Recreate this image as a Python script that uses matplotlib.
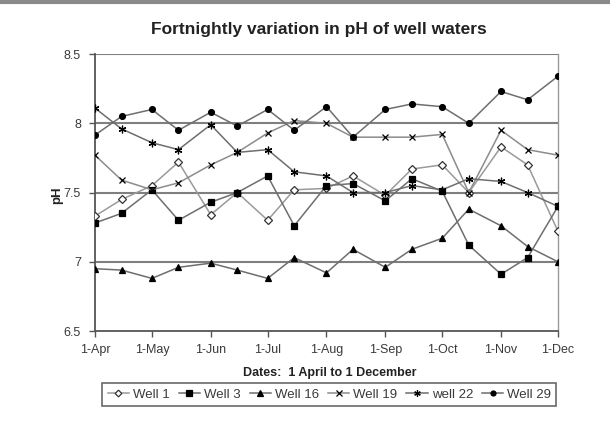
"""
Fortnightly pH of well waters, 1 April to 1 December.
"""

import matplotlib
matplotlib.use("Agg")
import matplotlib.pyplot as plt
import matplotlib.dates as mdates
import pandas as pd

# sampling dates (1st and 15th of each month)
dates = ['1-Apr', '15-Apr', '1-May', '15-May', '1-Jun', '15-Jun', '1-Jul', '15-Jul',
         '1-Aug', '15-Aug', '1-Sep', '15-Sep', '1-Oct', '15-Oct', '1-Nov', '15-Nov', '1-Dec']
tick_dates = ['1-Apr', '1-May', '1-Jun', '1-Jul', '1-Aug', '1-Sep', '1-Oct', '1-Nov', '1-Dec']

well_1 = [7.33, 7.45, 7.55, 7.72, 7.34, 7.50, 7.30, 7.52, 7.53, 7.62, 7.48, 7.67, 7.70, 7.50, 7.83, 7.70, 7.22]
well_3 = [7.28, 7.35, 7.52, 7.30, 7.43, 7.50, 7.62, 7.26, 7.55, 7.565, 7.44, 7.60, 7.51, 7.12, 6.91, 7.03, 7.40]
well_16 = [6.95, 6.94, 6.88, 6.96, 6.99, 6.94, 6.88, 7.03, 6.92, 7.09, 6.96, 7.09, 7.17, 7.38, 7.26, 7.11, 7.00]
well_19 = [7.77, 7.59, 7.52, 7.57, 7.70, 7.79, 7.93, 8.02, 8.00, 7.90, 7.90, 7.90, 7.92, 7.50, 7.95, 7.81, 7.77]
well_22 = [8.11, 7.96, 7.86, 7.81, 7.99, 7.79, 7.81, 7.65, 7.62, 7.50, 7.50, 7.55, 7.52, 7.60, 7.58, 7.50, 7.40]
well_29 = [7.915, 8.05, 8.10, 7.95, 8.08, 7.98, 8.10, 7.95, 8.12, 7.90, 8.10, 8.14, 8.12, 8.00, 8.23, 8.17, 8.34]

labels = ['Well 1', 'Well 3', 'Well 16', 'Well 19', 'well 22', 'Well 29']
y_ticks = [6.5, 7, 7.5, 8, 8.5]

x = pd.to_datetime([d + '-2009' for d in dates], format='%d-%b-%Y')
x_ticks = pd.to_datetime([d + '-2009' for d in tick_dates], format='%d-%b-%Y')

plt.rcParams['font.family'] = ['Liberation Sans', 'DejaVu Sans']

fig = plt.figure(figsize=(6.10, 4.26), dpi=100)
ax = fig.add_axes([0.1557, 0.223, 0.759, 0.650])

# series styles: (data, marker, size, face colour, line colour)
styles = [
    (well_1, 'D', 4, 'white', '#9a9a9a'),
    (well_3, 's', 4.5, 'black', '#6e6e6e'),
    (well_16, '^', 5, 'black', '#6e6e6e'),
    (well_19, 'x', 4.5, 'black', '#8c8c8c'),
    (well_22, (6, 2, 0), 5.5, 'black', '#6e6e6e'),
    (well_29, 'o', 4.2, 'black', '#6e6e6e'),
]

for (vals, mk, ms, fc, lc), lab in zip(styles, labels):
    ax.plot(x, vals, color=lc, lw=1.1, marker=mk, markersize=ms,
            markerfacecolor=fc, markeredgecolor='#333333' if fc == 'white' else 'black',
            markeredgewidth=0.9, label=lab, zorder=3)

# horizontal gridlines
for yv in y_ticks[1:]:
    ax.axhline(yv, color='#7f7f7f', lw=1.5, zorder=1)

ax.set_ylim(6.5, 8.5)
ax.set_xlim(x_ticks[0], x_ticks[-1])
ax.set_yticks(y_ticks)
ax.set_yticklabels(['6.5', '7', '7.5', '8', '8.5'])
ax.set_xticks(x_ticks)
ax.xaxis.set_major_formatter(mdates.DateFormatter('%-d-%b'))

ax.tick_params(axis='both', direction='out', length=4, width=1, color='#555555',
               labelsize=9, labelcolor='#3a3a3a')
ax.tick_params(axis='y', pad=6)
ax.tick_params(axis='x', pad=5)

for side in ['left', 'bottom']:
    ax.spines[side].set_color('#555555')
    ax.spines[side].set_linewidth(1.3)
ax.spines['right'].set_color('#9a9a9a')
ax.spines['right'].set_linewidth(1.0)
ax.spines['top'].set_visible(False)

fig.text(0.523, 0.930, 'Fortnightly variation in pH of well waters',
         ha='center', va='center', fontsize=12.5, fontweight='bold', color='#222222')
fig.text(0.093, 0.542, 'pH', ha='center', va='center', rotation=90,
         fontsize=9.5, fontweight='bold', color='#222222')
fig.text(0.540, 0.124, 'Dates:  1 April to 1 December', ha='center', va='center',
         fontsize=9, fontweight='bold', color='#222222')

leg = fig.legend(loc='center', bbox_to_anchor=(0.540, 0.074), ncol=6, fontsize=9.5,
                 frameon=True, fancybox=False, edgecolor='#444444', handlelength=1.6,
                 handletextpad=0.3, columnspacing=0.7, borderpad=0.4, markerscale=0.85)
leg.get_frame().set_linewidth(1.2)
for t in leg.get_texts():
    t.set_color('#3a3a3a')

# thin frame line along the top of the chart area
fig.add_artist(plt.Line2D([0, 1], [0.995, 0.995], color='#8a8a8a', lw=3))

fig.savefig('out.png', dpi=100)
